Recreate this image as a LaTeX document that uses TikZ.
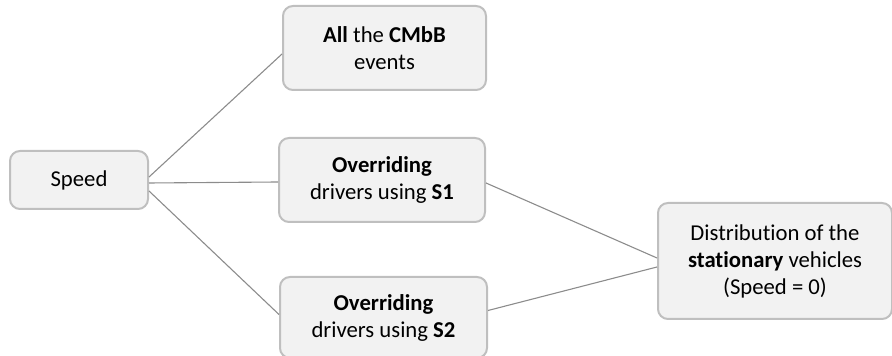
\documentclass[tikz,border=0pt]{standalone}
\usepackage{fontspec}
\setmainfont{Carlito}[RawFeature=-liga]
\usepackage{xcolor}
\usetikzlibrary{positioning}

\definecolor{boxfill}{HTML}{F2F2F2}
\definecolor{boxline}{HTML}{BFBFBF}
\definecolor{linkline}{HTML}{8C8C8C}

\begin{document}
\begin{tikzpicture}

\tikzset{
     stepbox/.style={
     	rounded corners=5pt,
     	rectangle,
     	line width=1pt,
     	draw=boxline,
     	fill=boxfill,
     	align=center,
     	inner sep=2pt,
     	font=\fontsize{11.35pt}{13.5pt}\selectfont
     }
}

\tikzset{
	link/.style={
		draw=linkline,
		line width=0.55pt
	}
}

\def\ecart{64.5pt}

\useasboundingbox (0,0) rectangle (446pt,-178pt);

% input
\node[stepbox, minimum width=69pt, minimum height=29pt] (speed) at (39.5pt,-90pt) {Speed};

% middle column
\node[stepbox, minimum width=103pt, minimum height=42pt, right=\ecart of speed] (s1)
	{\textbf{Overriding}\\drivers using \textbf{S1}};
\node[stepbox, minimum width=101.5pt, minimum height=42pt, above=23pt of s1, xshift=1.25pt] (all)
	{\textbf{All} the \textbf{CMbB}\\events};
\node[stepbox, minimum width=103.5pt, minimum height=40.5pt, below=26.5pt of s1, xshift=0.75pt] (s2)
	{\textbf{Overriding}\\drivers using \textbf{S2}};

% result
\node[stepbox, minimum width=117pt, minimum height=58pt, right=85.5pt of s1, yshift=-40.5pt] (dist)
	{Distribution of the\\\textbf{stationary} vehicles\\(Speed = 0)};

% links
\draw[link] ([yshift=1.5pt]speed.east) -- ([yshift=-3pt]all.west);
\draw[link] ([yshift=-1.5pt]speed.east) -- ([yshift=-1pt]s1.west);
\draw[link] ([yshift=-5.5pt]speed.east) -- ([yshift=1.5pt]s2.west);
\draw[link] ([yshift=-1.5pt]s1.east) -- ([yshift=1.5pt]dist.west);
\draw[link] ([yshift=3.5pt]s2.east) -- ([yshift=-3pt]dist.west);

\end{tikzpicture}
\end{document}
